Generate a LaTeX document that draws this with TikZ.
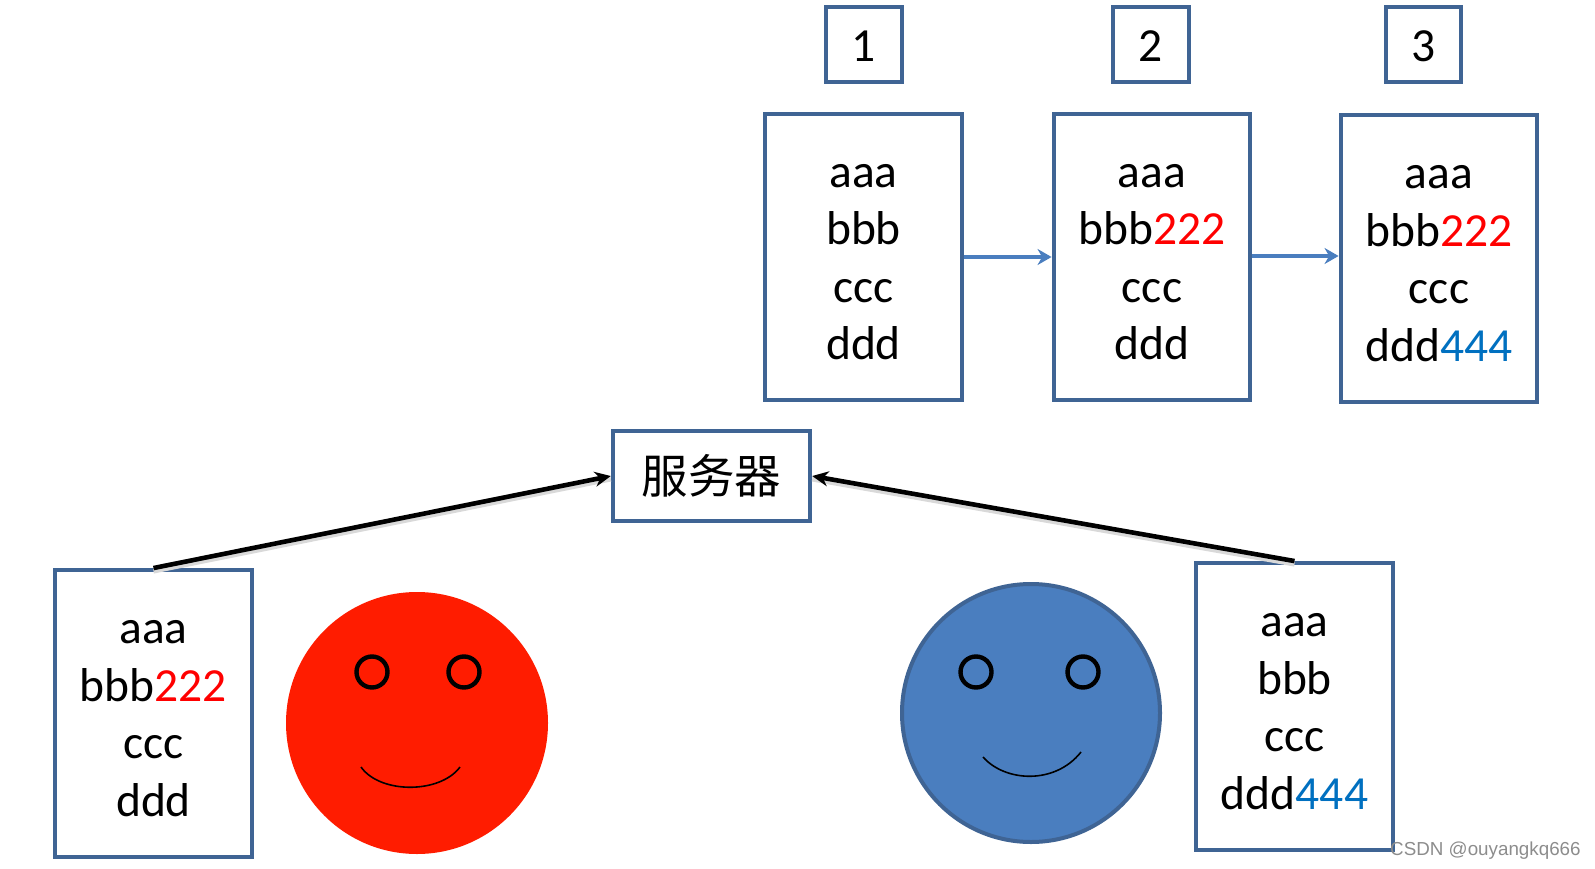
\documentclass[tikz,border=0pt]{standalone}
\usepackage{fontspec}
\setmainfont{Carlito}
\newfontfamily\cjk{Noto Sans CJK SC}
\usetikzlibrary{arrows.meta}
\definecolor{boxblue}{HTML}{3F6494}
\definecolor{faceblue}{HTML}{4A7EBF}
\definecolor{facered}{HTML}{FF1C00}
\definecolor{numblue}{HTML}{0070C0}
\newcommand{\redpart}{\textcolor{red}{222}}
\newcommand{\bluepart}{\textcolor{numblue}{444}}
\newcommand{\toprow}{\rule{0pt}{33pt}}
\begin{document}
\begin{tikzpicture}[x=1pt, y=-1pt, >={Stealth[length=16pt,width=15pt]}]

    \tikzset{%
    page box/.style={
        draw=boxblue,
        line width=4.4pt,
        fill=white,
        align=center,
        inner sep=0pt,
        font=\fontsize{47.5}{57.5}\selectfont
        },
    file box/.style={
        page box,
        minimum width=196.5pt,
        minimum height=286.5pt
        },
    tag box/.style={
        page box,
        minimum width=75.5pt,
        minimum height=74.5pt
        },
    face/.style={
        circle,
        inner sep=0pt,
        minimum size=262pt
        },
    eye/.style={
        circle,
        draw=black,
        line width=4.4pt,
        inner sep=0pt,
        minimum size=31pt
        },
    send arrow/.style={
        ->,
        black,
        line width=4.6pt,
        preaction={draw=black!15, line width=5pt, transform canvas={yshift=-3pt}, -}
        },
    copy arrow/.style={
        ->,
        faceblue,
        line width=3.4pt,
        >={Stealth[length=14pt,width=16pt]}
        },
    smile/.style={
        black,
        line width=1.6pt
        },
    }

    \useasboundingbox (0,0) rectangle (1595,869);

    % Version boxes along the top
    \foreach \m/\x in {1/864,2/1151,3/1423.5}
    \node [tag box] (tag-\m) at (\x,44.5) {\rule{0pt}{34pt}\m};

    \node [file box] (file-1) at (863.5,257) {\toprow aaa\\bbb\\ccc\\ddd};
    \node [file box] (file-2) at (1152,257) {\toprow aaa\\bbb\redpart\\ccc\\ddd};
    \node [file box] (file-3) at (1439,258.5) {\toprow aaa\\bbb\redpart\\ccc\\ddd\bluepart};

    \draw [copy arrow] (file-1.east |- 0,257) -- (file-2.west |- 0,257);
    \draw [copy arrow] (file-2.east |- 0,256) -- (file-3.west |- 0,256);

    % Server and the two users
    \node [page box, minimum width=197pt, minimum height=90.5pt] (server) at (711.5,476)
        {\cjk\fontsize{46.5}{50}\selectfont 服务器};

    \node [file box] (user-1) at (153.5,713.5) {\toprow aaa\\bbb\redpart\\ccc\\ddd};
    \node [file box] (user-2) at (1294.5,706.5) {\toprow aaa\\bbb\\ccc\\ddd\bluepart};

    \draw [send arrow] (user-1.north) -- (server.west);
    \draw [send arrow] (user-2.north) -- (server.east);

    % Red face
    \node [face, fill=facered] (face-1) at (417,723) {};
    \node [eye] (eye-1) at (372,672) {};
    \node [eye] (eye-2) at (464,672) {};
    \draw [smile] (361,767) .. controls (380,794) and (440,794) .. (460,767);

    % Blue face
    \node [face, fill=faceblue, draw=boxblue, line width=4pt, minimum size=258pt] (face-2) at (1031,713) {};
    \node [eye] (eye-3) at (976,672) {};
    \node [eye] (eye-4) at (1083,672) {};
    \draw [smile] (983,757) .. controls (1005,782) and (1055,785) .. (1081,752);

    % Watermark
    \node [anchor=west, inner sep=0pt, text=black!45, font=\fontspec{Liberation Sans}\fontsize{18.8}{20}\selectfont] (mark) at (1390,851) {CSDN @ouyangkq666};

\end{tikzpicture}
\end{document}
